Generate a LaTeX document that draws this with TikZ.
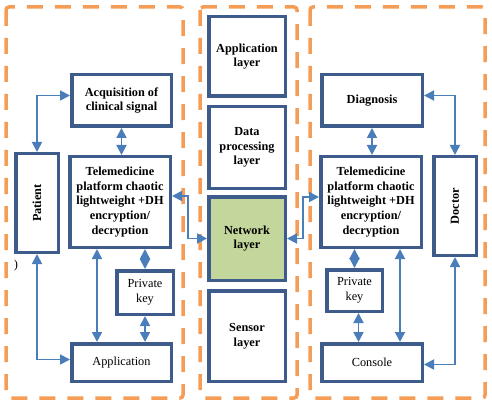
\documentclass[tikz,border=0pt]{standalone}
\usepackage{fontspec}
\setmainfont{Liberation Serif}
\usetikzlibrary{arrows.meta}
\definecolor{boxblue}{HTML}{3D5C8B}
\definecolor{linkblue}{HTML}{4A7EBB}
\definecolor{dashorange}{HTML}{F59D56}
\definecolor{netgreen}{HTML}{C3D69B}
\begin{document}
\begin{tikzpicture}[x=1pt,y=-1pt,
        blk/.style={draw=boxblue, line width=3.5pt, fill=white, align=center,
            font=\fontsize{12.3}{14.6}\selectfont\bfseries, inner sep=1pt},
        plainblk/.style={blk, font=\fontsize{12.3}{14.6}\selectfont},
        zone/.style={draw=dashorange, line width=3.5pt, dash pattern=on 16pt off 12pt, rounded corners=3pt},
        link/.style={draw=linkblue, line width=1.8pt, {Triangle[length=10pt,width=10pt]}-{Triangle[length=10pt,width=10pt]}}]
    \useasboundingbox (0,0) rectangle (492,406);
    % dashed zones
    \draw[zone] (6,7) rectangle (183,398);
    \draw[zone] (200,7) rectangle (297,398);
    \draw[zone] (310,7) rectangle (485,398);
    % middle layers
    \node[blk, minimum width=76.5, minimum height=79.5] (appl) at (247,56.5) {Application\\layer};
    \node[blk, minimum width=76.5, minimum height=81.5] (data) at (247,147.5) {Data\\processing\\layer};
    \node[blk, fill=netgreen, minimum width=76.5, minimum height=83.5] (net) at (247,238.5) {Network\\layer};
    \node[blk, minimum width=76.5, minimum height=90.5] (sens) at (247,336) {Sensor\\layer};
    % left side
    \node[blk, minimum width=99.5, minimum height=51.5] (acq) at (121.5,100.5) {Acquisition of\\clinical signal};
    \node[blk, minimum width=100.5, minimum height=90.5] (teleL) at (120,202) {Telemedicine\\platform chaotic\\lightweight +DH\\encryption/\\decryption};
    \node[blk, minimum width=42.5, minimum height=98.5] (pat) at (37,203) {\rotatebox{90}{Patient}};
    \node[plainblk, minimum width=56.5, minimum height=43.5] (keyL) at (145,292.5) {Private\\key};
    \node[plainblk, minimum width=99.5, minimum height=37.5] (app) at (121.5,362.5) {Application};
    \node[font=\fontsize{12.3}{14.6}\selectfont] (paren) at (16,266) {)};
    % right side
    \node[blk, minimum width=100.5, minimum height=51.5] (diag) at (372,100.5) {Diagnosis};
    \node[blk, minimum width=100.5, minimum height=90.5] (teleR) at (371,202) {Telemedicine\\platform chaotic\\lightweight +DH\\encryption/\\decryption};
    \node[blk, minimum width=42.5, minimum height=98.5] (doc) at (455,206) {\rotatebox{90}{Doctor}};
    \node[plainblk, minimum width=55.5, minimum height=41.5] (keyR) at (354.5,290.5) {Private\\key};
    \node[plainblk, minimum width=100.5, minimum height=37.5] (con) at (372,362.5) {Console};
    % links left
    \draw[link] (pat.north) |- ([yshift=5pt]acq.west);
    \draw[link] (pat.south) |- ([yshift=3pt]app.west);
    \draw[link] (acq.south) -- (acq.south |- teleL.north);
    \draw[link] ([xshift=-23pt]teleL.south) -- ([xshift=-23pt]teleL.south |- app.north);
    \draw[link] (keyL.north |- teleL.south) -- (keyL.north);
    \draw[link] (keyL.south) -- (keyL.south |- app.north);
    \draw[link] ([yshift=6pt]teleL.east) -- ++(16,0) |- (net.west);
    % links right
    \draw[link] ([yshift=5pt]diag.east) -| (doc.north);
    \draw[link] (doc.south) |- ([yshift=-2pt]con.east);
    \draw[link] (diag.south) -- (diag.south |- teleR.north);
    \draw[link] (keyR.north |- teleR.south) -- (keyR.north);
    \draw[link] ([xshift=4pt]keyR.south) -- ([xshift=4pt]keyR.south |- con.north);
    \draw[link] ([xshift=29pt]teleR.south) -- ([xshift=29pt]teleR.south |- con.north);
    \draw[link] (net.east) -- ++(16,0) |- ([yshift=5pt]teleR.west);
\end{tikzpicture}
\end{document}
